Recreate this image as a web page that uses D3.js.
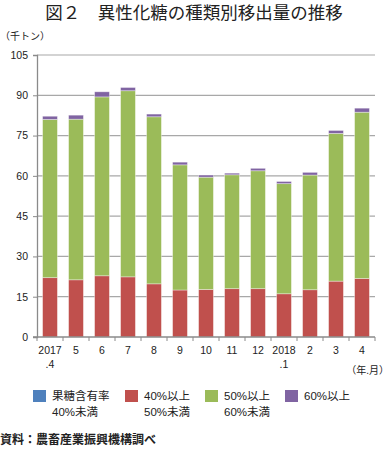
<!DOCTYPE html>
<html><head><meta charset="utf-8">
<script src="https://cdn.jsdelivr.net/npm/d3@7"></script>
<style>
body{margin:0;background:#fff;}
text{font-family:"Liberation Sans","Noto Sans CJK JP",sans-serif;}
</style></head>
<body>
<svg id="c" width="389" height="449"></svg>
<script>
const categories = ["2017\n.4","5","6","7","8","9","10","11","12","2018\n.1","2","3","4"];
const seriesNames = [["果糖含有率","40%未満"],["40%以上","50%未満"],["50%以上","60%未満"],["60%以上"]];
const below40 = [0,0,0,0,0,0,0,0,0,0,0,0,0];
const from40to50 = [22.1,21.3,22.8,22.4,19.8,17.5,17.7,18.0,18.0,16.1,17.6,20.8,21.8];
const from50to60 = [58.9,59.8,66.6,69.3,62.2,46.6,41.8,42.4,43.9,41.0,42.7,55.0,61.9];
const above60 = [1.2,1.5,1.9,1.2,1.0,1.0,0.8,0.6,0.9,0.8,1.0,1.1,1.5];
const yTicks = [0,15,30,45,60,75,90,105];
const colors = ["#4f81bd","#c0504d","#9bbb59","#8064a2"];

const svg = d3.select("#c");
const x = d3.scaleBand().domain(d3.range(categories.length)).range([37,375]).paddingInner(0.43).paddingOuter(0.215);
const xb = d3.scaleBand().domain(d3.range(categories.length)).range([37,375]);
const y = d3.scaleLinear().domain([0,105]).range([337,55]);

svg.append("text").attr("x",194).attr("y",19).attr("text-anchor","middle")
  .attr("font-size",17.5).attr("fill","#222").text("図２　異性化糖の種類別移出量の推移");
svg.append("text").attr("x",0).attr("y",40).attr("font-size",10).attr("fill","#222").text("（千トン）");

// grid
svg.append("g").selectAll("line").data(yTicks.filter(d=>d>0)).join("line")
  .attr("x1",37).attr("x2",375).attr("y1",d=>y(d)).attr("y2",d=>y(d))
  .attr("stroke","#a8a8a8").attr("stroke-width",1.2);

// stacks
const data = categories.map((c,i)=>({i, s0:below40[i], s1:from40to50[i], s2:from50to60[i], s3:above60[i]}));
const stack = d3.stack().keys(["s0","s1","s2","s3"])(data);
svg.append("g").selectAll("g").data(stack).join("g").attr("fill",(d,k)=>colors[k])
  .selectAll("rect").data(d=>d).join("rect")
  .attr("x",d=>x(d.data.i)).attr("width",x.bandwidth())
  .attr("y",d=>y(d[1])).attr("height",d=>Math.max(0,y(d[0])-y(d[1])))
  .attr("stroke","rgba(255,255,255,0.45)").attr("stroke-width",d=>(d[1]-d[0])>0?0.8:0);

// y axis
const ya = svg.append("g").attr("transform","translate(37,0)")
  .call(d3.axisLeft(y).tickValues(yTicks).tickSize(4).tickPadding(5));
ya.select(".domain").attr("stroke","#8a8a8a").attr("stroke-width",1.3);
ya.selectAll(".tick line").attr("stroke","#8a8a8a");
ya.selectAll("text").attr("font-size",10.5).attr("fill","#222").attr("font-family","Liberation Sans, sans-serif");

// x axis
const xa = svg.append("g").attr("transform","translate(0,337)")
  .call(d3.axisBottom(xb).tickSize(0).tickFormat(""));
xa.select(".domain").remove();
xa.append("line").attr("x1",33).attr("x2",375).attr("stroke","#8a8a8a").attr("stroke-width",1.5);
xa.selectAll(".bnd").data(d3.range(categories.length+1)).join("line").attr("class","bnd")
  .attr("x1",d=>37+d*xb.step()).attr("x2",d=>37+d*xb.step()).attr("y1",0).attr("y2",4)
  .attr("stroke","#8a8a8a");
const lbl = svg.append("g");
categories.forEach((c,i)=>{
  const parts=c.split("\n");
  parts.forEach((p,j)=>{
    lbl.append("text").attr("x",xb(i)+xb.bandwidth()/2).attr("y",354+j*14)
      .attr("text-anchor","middle").attr("font-size",10.5).attr("fill","#222").text(p);
  });
});
svg.append("text").attr("x",389).attr("y",374).attr("text-anchor","end").attr("font-size",10).attr("fill","#222").text("（年.月）");

// legend
const legX = [33,125,205,285];
const leg = svg.append("g");
seriesNames.forEach((n,k)=>{
  leg.append("rect").attr("x",legX[k]).attr("y",390).attr("width",13).attr("height",12).attr("fill",colors[k]);
  n.forEach((t,j)=>{
    leg.append("text").attr("x",legX[k]+19).attr("y",400+j*16).attr("font-size",11.5).attr("fill","#222").text(t);
  });
});

svg.append("text").attr("x",0).attr("y",444).attr("font-size",12).attr("font-weight","bold").attr("fill","#222").text("資料：農畜産業振興機構調べ");
</script>
</body></html>
